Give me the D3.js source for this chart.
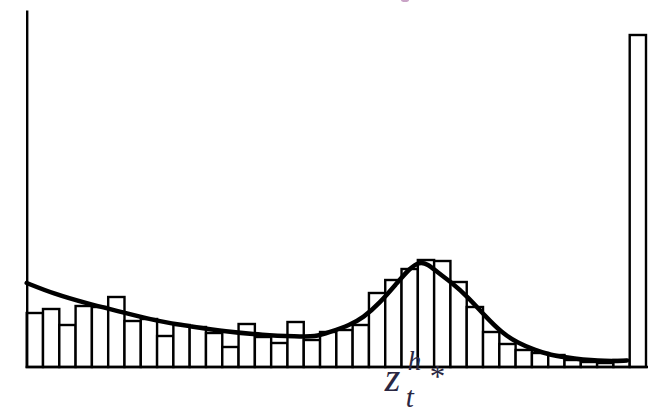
<!DOCTYPE html>
<html>
<head>
<meta charset="utf-8">
<script src="https://cdn.jsdelivr.net/npm/d3@7"></script>
<style>
  html, body { margin: 0; padding: 0; background: #fff; }
  svg { display: block; }
</style>
</head>
<body>
<svg id="chart" width="648" height="414"></svg>
<script>
// Histogram bin counts (38 bins, last bin is the overflow bin)
const binCounts = [54, 58, 42, 61, 60, 70, 46, 48, 31, 42, 40, 34, 20, 43, 30, 24, 45, 27, 35, 37,
                   42, 74, 87, 98, 107, 106, 85, 60, 35, 23, 17, 14, 12, 7, 5, 4, 7, 332];
// Fitted density curve (x in bin units, y in count units)
const curveX = [0, 1.61, 3.70, 5.72, 8.07, 10.14, 12.17, 14.50, 16.58, 17.69, 18.61, 19.83, 20.63,
                21.67, 22.72, 23.52, 24.07, 24.62, 25.17, 26.03, 27.07, 28.12, 29.16, 30.14, 31.18,
                32.1, 33.51, 35.6, 36.83];
const curveY = [84, 73.5, 63.5, 55.5, 45.5, 40.5, 35.5, 32, 30.5, 30, 35, 42, 49,
                64, 84, 99, 105, 103, 95, 85, 70, 51, 34, 24, 17,
                12, 8.5, 5.5, 6.5];
// Axis label position (bin units)
const labelBin = 24.0;

const svg = d3.select("#chart");
const x = d3.scaleLinear().domain([0, binCounts.length]).range([26.7, 646]);
const y = d3.scaleLinear().domain([0, 357]).range([367, 10]);

// bars
svg.append("g").selectAll("rect")
  .data(binCounts)
  .join("rect")
  .attr("x", (d, i) => x(i))
  .attr("y", d => y(d))
  .attr("width", (d, i) => x(i + 1) - x(i))
  .attr("height", d => y(0) - y(d))
  .attr("fill", "#fff")
  .attr("stroke", "#000")
  .attr("stroke-width", 2.4);

// curve
const pts = curveX.map((v, i) => [v, curveY[i]]);
svg.append("path")
  .datum(pts)
  .attr("fill", "none")
  .attr("stroke", "#000")
  .attr("stroke-width", 4.5)
  .attr("stroke-linejoin", "round")
  .attr("stroke-linecap", "round")
  .attr("d", d3.line().x(d => x(d[0])).y(d => y(d[1])).curve(d3.curveBasis));

// axes (domain lines only)
const xAxis = d3.axisBottom(x).tickValues([]).tickSizeOuter(0);
const gx = svg.append("g").attr("transform", `translate(0,${y(0)})`).call(xAxis);
gx.select(".domain").attr("stroke", "#000").attr("stroke-width", 2.4)
  .attr("d", `M${x(0) - 1},0H648`);
const yAxis = d3.axisLeft(y).tickValues([]).tickSizeOuter(0);
const gy = svg.append("g").attr("transform", `translate(${x(0)},0)`).call(yAxis);
gy.select(".domain").attr("stroke", "#000").attr("stroke-width", 2.4);

// label z_t^{h*}
const lx = x(labelBin);
const lab = svg.append("g").attr("fill", "#2a2742")
  .attr("font-family", "'Liberation Serif', 'DejaVu Serif', serif")
  .attr("font-style", "italic");
lab.append("text").attr("x", lx - 33).attr("y", 391).attr("font-size", 40).text("z");
lab.append("text").attr("x", lx - 12).attr("y", 407).attr("font-size", 29).text("t");
lab.append("text").attr("x", lx - 10).attr("y", 370).attr("font-size", 27).text("h");
lab.append("text").attr("x", lx + 12).attr("y", 387).attr("font-size", 31).attr("font-style", "normal").text("*");

// tiny mark at top edge
svg.append("ellipse").attr("cx", 405).attr("cy", 0).attr("rx", 4).attr("ry", 2).attr("fill", "#c9a3c6");
</script>
</body>
</html>
